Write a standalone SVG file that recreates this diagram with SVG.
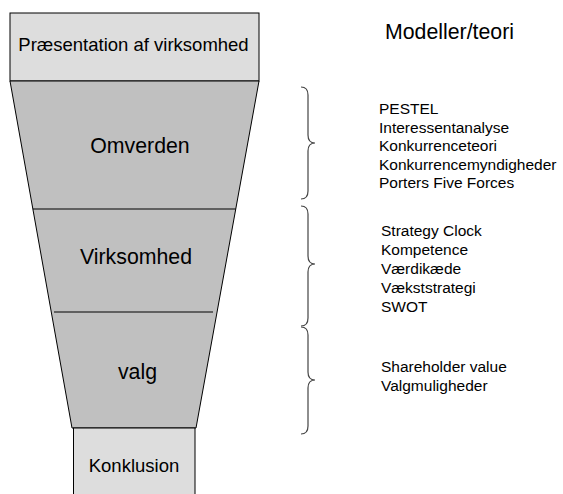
<svg xmlns="http://www.w3.org/2000/svg" width="563" height="494" viewBox="0 0 563 494">
  <style>
    .box { fill: #dddddd; stroke: #000; stroke-width: 1; }
    .funnel { fill: #c0c0c0; stroke: #000; stroke-width: 1; }
    .divider { stroke: #000; stroke-width: 1; fill: none; }
    .brace { fill: none; stroke: #444; stroke-width: 1.2; }
    text { font-family: "Liberation Sans", Arial, sans-serif; fill: #000; }
    .lbl { text-anchor: middle; }
    .big { font-size: 21.3px; }
    .mid { font-size: 18.5px; }
    .list { font-size: 15.5px; }
  </style>

  <!-- Top box -->
  <g id="praesentation">
    <rect class="box" x="10" y="13" width="249" height="68"/>
    <text class="lbl mid" x="133.5" y="51">Præsentation af virksomhed</text>
  </g>

  <!-- Funnel sections -->
  <g id="funnel">
    <polygon class="funnel" points="10,81 259,81 196,428 72,428"/>
  </g>
  <g id="omverden">
    <text class="lbl big" x="140" y="153">Omverden</text>
  </g>
  <g id="virksomhed">
    <text class="lbl big" x="136" y="264">Virksomhed</text>
  </g>
  <g id="valg">
    <text class="lbl big" x="137.5" y="379">valg</text>
  </g>

  <!-- Section dividers -->
  <g id="connectors">
    <line class="divider" x1="32.9" y1="209" x2="235.8" y2="209"/>
    <line class="divider" x1="54" y1="312" x2="213" y2="312"/>
  </g>

  <!-- Bottom box -->
  <g id="konklusion">
    <rect class="box" x="73.5" y="428" width="121.5" height="80"/>
    <text class="lbl mid" x="134" y="472">Konklusion</text>
  </g>

  <!-- Heading -->
  <g id="modeller">
    <text class="big" x="385" y="39">Modeller/teori</text>
  </g>

  <!-- Braces -->
  <g id="braces">
    <path class="brace" d="M301,87 Q308,87 308,95 L308,135 Q308,143 315,143 Q308,143 308,151 L308,191 Q308,199 301,199"/>
    <path class="brace" d="M301,206 Q308,206 308,214 L308,256 Q308,264 315,264 Q308,264 308,272 L308,318 Q308,326 301,326"/>
    <path class="brace" d="M301,327 Q308,327 308,335 L308,372 Q308,380 315,380 Q308,380 308,388 L308,426 Q308,434 301,434"/>
  </g>

  <!-- Model lists -->
  <g id="omverden-modeller">
    <text class="list" x="379" y="114">PESTEL</text>
    <text class="list" x="379" y="132.5">Interessentanalyse</text>
    <text class="list" x="379" y="151">Konkurrenceteori</text>
    <text class="list" x="379" y="169.5">Konkurrencemyndigheder</text>
    <text class="list" x="379" y="188">Porters Five Forces</text>
  </g>
  <g id="virksomhed-modeller">
    <text class="list" x="381" y="236">Strategy Clock</text>
    <text class="list" x="381" y="255">Kompetence</text>
    <text class="list" x="381" y="274">Værdikæde</text>
    <text class="list" x="381" y="293">Vækststrategi</text>
    <text class="list" x="381" y="312">SWOT</text>
  </g>
  <g id="valg-modeller">
    <text class="list" x="381" y="372">Shareholder value</text>
    <text class="list" x="381" y="391">Valgmuligheder</text>
  </g>
</svg>
